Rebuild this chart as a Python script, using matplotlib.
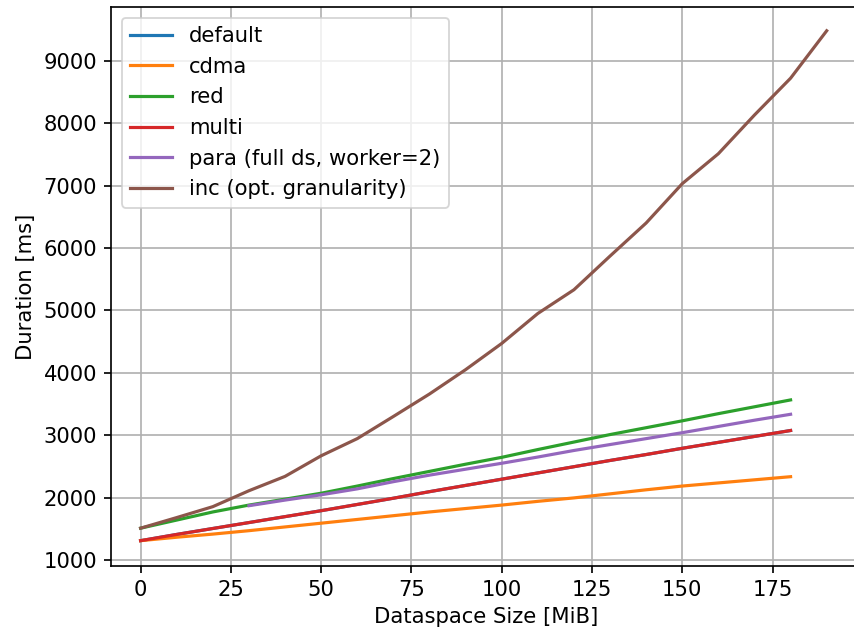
import matplotlib
matplotlib.use("Agg")
import matplotlib.pyplot as plt

x = [0, 10, 20, 30, 40, 50, 60, 70, 80, 90, 100, 110, 120, 130, 140, 150, 160, 170, 180]
x_inc = x + [190]
x_para = x[3:]

default = [1310, 1410, 1505, 1600, 1695, 1790, 1890, 1990, 2095, 2195, 2295, 2395, 2495, 2595, 2690, 2790, 2885, 2980, 3075]
cdma = [1310, 1365, 1415, 1470, 1530, 1590, 1650, 1710, 1770, 1825, 1880, 1940, 1995, 2060, 2125, 2185, 2235, 2285, 2335]
red = [1510, 1640, 1770, 1880, 1975, 2070, 2185, 2305, 2420, 2535, 2645, 2770, 2890, 3010, 3120, 3230, 3345, 3455, 3565]
multi = [1310, 1410, 1505, 1600, 1695, 1790, 1890, 1990, 2095, 2195, 2295, 2395, 2495, 2595, 2690, 2790, 2885, 2980, 3075]
para = [1870, 1960, 2045, 2140, 2255, 2360, 2455, 2550, 2650, 2755, 2850, 2945, 3040, 3140, 3240, 3335]
inc = [1510, 1680, 1855, 2110, 2340, 2670, 2945, 3300, 3660, 4050, 4470, 4950, 5330, 5870, 6400, 7030, 7510, 8130, 8720, 9480]

s = 1.14
plt.rcParams.update({
    "font.size": 10 * s,
    "lines.linewidth": 1.5 * s,
    "grid.linewidth": 0.8 * s,
    "axes.linewidth": 0.8 * s,
    "xtick.major.size": 3.5 * s,
    "ytick.major.size": 3.5 * s,
    "xtick.major.width": 0.8 * s,
    "ytick.major.width": 0.8 * s,
})

dpi = 133.44
fig = plt.figure(figsize=(854 / dpi, 631 / dpi), dpi=dpi)
ax = fig.add_axes([111 / 854, 65 / 631, 750 / 854, 558.7 / 631])

ax.plot(x, default, label="default")
ax.plot(x, cdma, label="cdma")
ax.plot(x, red, label="red")
ax.plot(x, multi, label="multi")
ax.plot(x_para, para, label="para (full ds, worker=2)")
ax.plot(x_inc, inc, label="inc (opt. granularity)")

ax.set_xlim(-8.2, 199.5)
ax.set_ylim(904, 9856)
ax.set_xticks([0, 25, 50, 75, 100, 125, 150, 175])
ax.set_yticks([1000, 2000, 3000, 4000, 5000, 6000, 7000, 8000, 9000])
ax.set_xlabel("Dataspace Size [MiB]")
ax.set_ylabel("Duration [ms]")
ax.grid(True)
ax.legend(loc="upper left")

fig.savefig("out.png", dpi=dpi)
